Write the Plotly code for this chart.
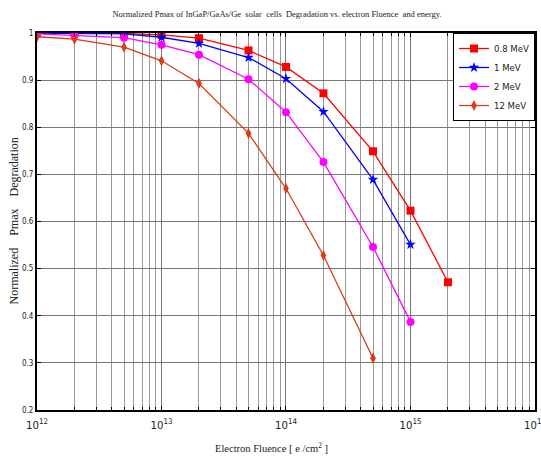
import plotly.graph_objects as go

fluence = [1e12, 2e12, 5e12, 1e13, 2e13, 5e13, 1e14, 2e14, 5e14, 1e15, 2e15]

mev08 = [1.0, 1.0, 0.999, 0.996, 0.989, 0.963, 0.928, 0.872, 0.749, 0.623, 0.471]
mev1 = [1.0, 0.999, 0.998, 0.991, 0.978, 0.948, 0.903, 0.833, 0.689, 0.551]
mev2 = [0.998, 0.995, 0.99, 0.975, 0.954, 0.902, 0.832, 0.726, 0.546, 0.387]
mev12 = [0.992, 0.987, 0.97, 0.941, 0.893, 0.787, 0.670, 0.528, 0.310]

series = [
    ("0.8 MeV", mev08, "#ff0000", "square"),
    ("1 MeV", mev1, "#0000ff", "star"),
    ("2 MeV", mev2, "#ff00ff", "circle"),
    ("12 MeV", mev12, "#dc3a18", "diamond-tall"),
]

narrow = "DejaVu Sans Condensed, Liberation Sans Narrow, Liberation Sans"
serif = "Liberation Serif, Times New Roman"

fig = go.Figure()
for name, vals, col, sym in series:
    fig.add_trace(go.Scatter(
        x=fluence[:len(vals)], y=vals, name=name, mode="lines+markers",
        line=dict(color=col, width=1.3),
        marker=dict(symbol=sym, size=8, color=col, line=dict(width=0)),
    ))

fig.update_layout(
    width=541, height=457,
    margin=dict(l=37, r=6, t=33, b=47, autoexpand=False),
    paper_bgcolor="white", plot_bgcolor="white",
    font=dict(family=narrow, size=9, color="#222"),
    title=dict(text="Normalized Pmax of InGaP/GaAs/Ge  solar  cells  Degradation vs. electron Fluence  and energy.",
               x=0.512, xanchor="center", y=0.97, yanchor="middle",
               font=dict(family=serif, size=8.5, color="#222")),
    legend=dict(x=1, y=1, xanchor="right", yanchor="top", bgcolor="white",
                bordercolor="black", borderwidth=1,
                font=dict(family=narrow, size=9.5, color="#222"),
                itemwidth=30, tracegroupgap=2),
    showlegend=True,
    annotations=[
        dict(text="Normalized    Pmax    Degradation", xref="paper", yref="paper",
             x=0, y=0.5, xshift=-24, textangle=-90, showarrow=False,
             xanchor="center", yanchor="middle",
             font=dict(family=serif, size=12, color="#222")),
        dict(text="Electron Fluence [ e /cm<sup>2</sup> ]", xref="paper", yref="paper",
             x=0.47, y=0, yshift=-37, showarrow=False,
             xanchor="center", yanchor="middle",
             font=dict(family=serif, size=10.5, color="#222")),
    ],
)

fig.update_xaxes(
    type="log", range=[12, 16.0001], dtick=1, exponentformat="power",
    ticklabeloverflow="allow", automargin=False, ticklabelstandoff=4,
    showline=True, linecolor="black", linewidth=2, mirror="ticks",
    ticks="inside", ticklen=4, tickcolor="black",
    showgrid=True, gridcolor="#777", gridwidth=1,
    minor=dict(dtick="D1", showgrid=True, gridcolor="#999", gridwidth=1, ticks="inside", ticklen=3, tickcolor="black"),
    zeroline=False,
)
fig.update_yaxes(
    range=[0.2, 1.0], dtick=0.1, automargin=False,
    tickfont=dict(size=8),
    showline=True, linecolor="black", linewidth=2, mirror="ticks",
    ticks="inside", ticklen=4, tickcolor="black",
    showgrid=True, gridcolor="#777", gridwidth=1,
    zeroline=False,
)

fig.write_html("out.html")
